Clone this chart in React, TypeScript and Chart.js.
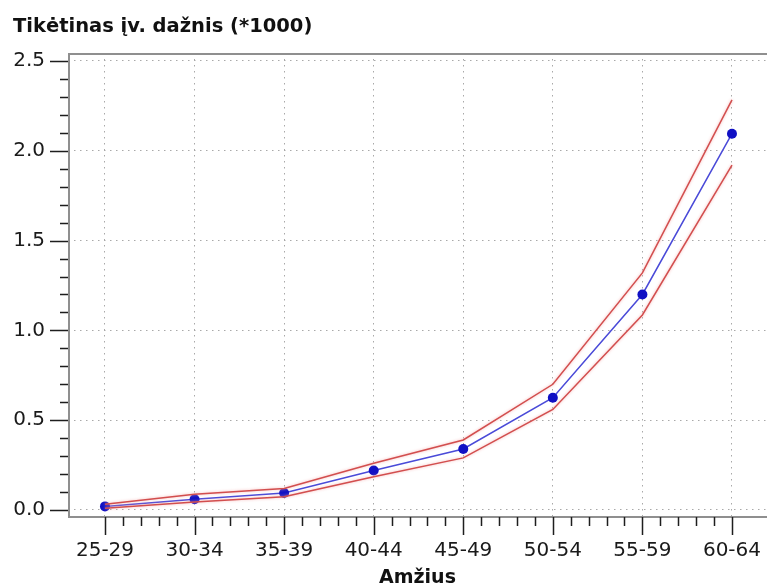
import { useEffect, useRef } from 'react';
import { Chart, registerables } from 'chart.js';

Chart.register(...registerables);

// Age groups on the horizontal axis
const ageGroups = ['25-29', '30-34', '35-39', '40-44', '45-49', '50-54', '55-59', '60-64'];
// Expected incidence rate (per 1000) and its confidence band
const expectedRate = [0.02, 0.06, 0.095, 0.22, 0.34, 0.625, 1.2, 2.095];
const upperBound = [0.032, 0.087, 0.12, 0.26, 0.39, 0.7, 1.32, 2.283];
const lowerBound = [0.01, 0.045, 0.074, 0.185, 0.29, 0.56, 1.086, 1.92];
// Labelled ticks on the vertical axis
const yTickValues = [0, 0.5, 1, 1.5, 2, 2.5];

const yTitle = 'Tikėtinas įv. dažnis (*1000)';
const xTitle = 'Amžius';

const FONT = '"DejaVu Sans", Verdana, sans-serif';

const toPoints = (values: number[]) => values.map((y, i) => ({ x: i, y }));

// Frame around the plot plus major/minor tick marks outside it
const frameAndTicks = {
  id: 'frameAndTicks',
  beforeDatasetsDraw(chart: any) {
    const { ctx, chartArea } = chart;
    const { left, right, top, bottom } = chartArea;
    const xs = chart.scales.x;
    const ys = chart.scales.y;
    ctx.save();
    ctx.strokeStyle = '#8f8f8f';
    ctx.lineWidth = 2;
    ctx.beginPath();
    ctx.moveTo(left + 1, bottom);
    ctx.lineTo(left + 1, top + 1);
    ctx.lineTo(right, top + 1);
    ctx.moveTo(left, bottom);
    ctx.lineTo(right, bottom);
    ctx.stroke();

    ctx.strokeStyle = '#1e1e1e';
    ctx.lineWidth = 1.5;
    ctx.beginPath();
    const yMax = yTickValues[yTickValues.length - 1];
    for (let k = 0; k <= Math.round(yMax * 10); k++) {
      const py = Math.round(ys.getPixelForValue(k / 10)) + 0.5;
      const len = k % 5 === 0 ? 18 : 8;
      ctx.moveTo(left - len, py);
      ctx.lineTo(left, py);
    }
    for (let k = 0; k <= (ageGroups.length - 1) * 5; k++) {
      const px = Math.round(xs.getPixelForValue(k / 5)) + 0.5;
      const len = k % 5 === 0 ? 18 : 9;
      ctx.moveTo(px, bottom);
      ctx.lineTo(px, bottom + len);
    }
    ctx.stroke();
    ctx.restore();
  },
};

// Horizontal title of the value axis, top-left
const valueAxisTitle = {
  id: 'valueAxisTitle',
  afterDraw(chart: any) {
    const { ctx } = chart;
    ctx.save();
    ctx.font = `bold 19.5px ${FONT}`;
    ctx.fillStyle = '#111111';
    ctx.textAlign = 'left';
    ctx.textBaseline = 'alphabetic';
    ctx.fillText(yTitle, 13, 32);
    ctx.restore();
  },
};

// Soft halo on the confidence band lines
const bandGlow = {
  id: 'bandGlow',
  beforeDatasetDraw(chart: any, args: any) {
    if (args.index < 2) {
      chart.ctx.save();
      chart.ctx.shadowColor = 'rgba(245, 165, 165, 0.8)';
      chart.ctx.shadowBlur = 3;
    }
  },
  afterDatasetDraw(chart: any, args: any) {
    if (args.index < 2) chart.ctx.restore();
  },
};

export default function App() {
  const canvasRef = useRef<HTMLCanvasElement | null>(null);

  useEffect(() => {
    const canvas = canvasRef.current;
    if (!canvas) return;
    const chart = new Chart(canvas, {
      type: 'line',
      data: {
        datasets: [
          {
            data: toPoints(upperBound),
            borderColor: '#d24e4e',
            borderWidth: 1.5,
            pointRadius: 0,
            fill: false,
          },
          {
            data: toPoints(lowerBound),
            borderColor: '#d24e4e',
            borderWidth: 1.5,
            pointRadius: 0,
            fill: false,
          },
          {
            data: toPoints(expectedRate),
            borderColor: '#4a4ad8',
            borderWidth: 1.5,
            pointRadius: 5,
            pointBackgroundColor: '#1010c4',
            pointBorderWidth: 0,
            fill: false,
          },
        ],
      },
      options: {
        animation: false,
        responsive: false,
        devicePixelRatio: 1,
        layout: { autoPadding: false, padding: { top: 53, left: 0, right: 0, bottom: 0 } },
        plugins: {
          legend: { display: false },
          tooltip: { enabled: false },
          title: { display: false },
        },
        scales: {
          x: {
            type: 'linear',
            min: -0.413,
            max: 7.391,
            afterBuildTicks: (s: any) => {
              s.ticks = ageGroups.map((_, i) => ({ value: i }));
            },
            afterFit: (s: any) => {
              s.height = 71;
              s.paddingLeft = 0;
              s.paddingRight = 0;
            },
            ticks: {
              callback: (v: any) => ageGroups[Math.round(Number(v))] ?? '',
              font: { family: FONT, size: 20 },
              color: '#1a1a1a',
              padding: 22,
              autoSkip: false,
              maxRotation: 0,
            },
            grid: { color: '#a9a9a9', lineWidth: 1, drawTicks: false },
            border: { display: false, dash: [1.5, 4.5] },
            title: {
              display: true,
              text: xTitle,
              font: { family: FONT, size: 19, weight: 'bold' },
              color: '#111111',
              padding: { top: 0, bottom: -1 },
            },
          },
          y: {
            type: 'linear',
            min: -0.039,
            max: 2.5445,
            afterBuildTicks: (s: any) => {
              s.ticks = yTickValues.map((value) => ({ value }));
            },
            afterFit: (s: any) => {
              s.width = 68;
              s.paddingTop = 0;
              s.paddingBottom = 0;
            },
            ticks: {
              callback: (v: any) => Number(v).toFixed(1),
              font: { family: FONT, size: 20 },
              color: '#1a1a1a',
              padding: 23,
            },
            grid: { color: '#a9a9a9', lineWidth: 1, drawTicks: false },
            border: { display: false, dash: [1.5, 4.5] },
          },
        },
      },
      plugins: [frameAndTicks, bandGlow, valueAxisTitle],
    });
    return () => chart.destroy();
  }, []);

  return (
    <div style={{ position: 'fixed', left: 0, top: 0, width: 767, height: 588, overflow: 'hidden', background: '#ffffff' }}>
      <canvas ref={canvasRef} width={767} height={588} style={{ display: 'block' }} />
    </div>
  );
}
